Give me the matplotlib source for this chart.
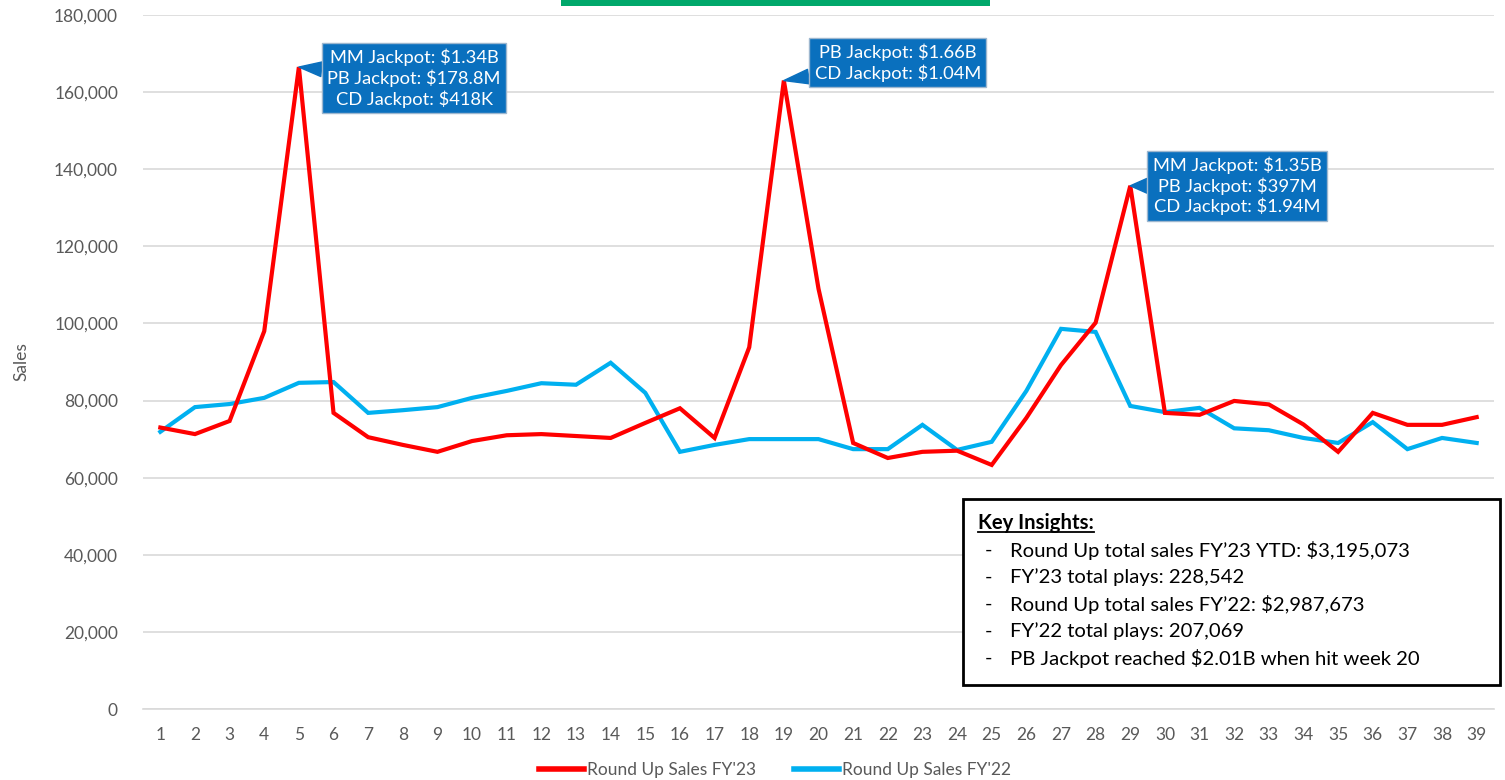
import numpy as np
import matplotlib
matplotlib.use("Agg")
import matplotlib.pyplot as plt
from matplotlib.patches import Rectangle
from matplotlib.ticker import FuncFormatter, MultipleLocator

plt.rcParams.update({"font.family": ["Lato", "DejaVu Sans"]})

weeks = list(range(1, 40))
sales_fy23 = [73000, 71300, 74700, 98000, 166500, 76800, 70500, 68500, 66700, 69500,
              71000, 71300, 70800, 70300, 74200, 78000, 70300, 93800, 163000, 109000,
              69000, 65100, 66700, 67000, 63300, 75500, 89200, 100200, 135700, 76800,
              76300, 79900, 79000, 73800, 66700, 76800, 73700, 73700, 75700]
sales_fy22 = [71900, 78300, 79100, 80700, 84600, 84800, 76800, 77500, 78300, 80700,
              82500, 84500, 84100, 89800, 82000, 66700, 68500, 70000, 70000, 70000,
              67400, 67400, 73700, 67200, 69300, 82500, 98600, 97800, 78600, 77000,
              78100, 72800, 72300, 70300, 69000, 74400, 67400, 70300, 69000]

callouts = [
    (5, "MM Jackpot: $1.34B\nPB Jackpot: $178.8M\nCD Jackpot: $418K", (83, -8)),
    (19, "PB Jackpot: $1.66B\nCD Jackpot: $1.04M", (82, 13)),
    (29, "MM Jackpot: $1.35B\nPB Jackpot: $397M\nCD Jackpot: $1.94M", (77, 0)),
]
insights = [
    "Round Up total sales FY\u201923 YTD: $3,195,073",
    "FY\u201923 total plays: 228,542",
    "Round Up total sales FY\u201922: $2,987,673",
    "FY\u201922 total plays: 207,069",
    "PB Jackpot reached $2.01B when hit week 20",
]

RED = "#FF0000"
CYAN = "#00B0F0"
CALLOUT = "#0A70BE"
GREY = "#595959"
W, H = 1505, 780

fig = plt.figure(figsize=(W / 100, H / 100), dpi=100)
ax = fig.add_axes([143 / W, 71 / H, (1494 - 143) / W, (709 - 15) / H])

ax.plot(weeks, sales_fy23, color=RED, lw=3, label="Round Up Sales FY'23",
        solid_joinstyle="miter", zorder=3)
ax.plot(weeks, sales_fy22, color=CYAN, lw=3, label="Round Up Sales FY'22",
        solid_joinstyle="miter", zorder=2)

ax.set_xlim(0.5, 39.5)
ax.set_ylim(0, 180000)
ax.set_xticks(weeks)
ax.yaxis.set_major_locator(MultipleLocator(20000))
ax.yaxis.set_major_formatter(FuncFormatter(lambda v, p: f"{int(v):,}"))
ax.grid(axis="y", color="#D9D9D9", lw=1.2)
ax.set_axisbelow(True)
for s in ("top", "right", "left"):
    ax.spines[s].set_visible(False)
ax.spines["bottom"].set_color("#D9D9D9")
ax.spines["bottom"].set_linewidth(1.2)
ax.tick_params(axis="both", length=0, labelsize=12.5, labelcolor=GREY)
ax.tick_params(axis="y", pad=18)
ax.tick_params(axis="x", pad=13)
ax.set_ylabel("Sales", fontsize=12.5, color=GREY, labelpad=18)

# callouts at the peaks
for wk, txt, off in callouts:
    ax.annotate(txt, xy=(wk, sales_fy23[wk - 1]), xytext=off, textcoords="offset points",
                ha="center", va="center", fontsize=13.2, color="white", linespacing=1.22,
                bbox=dict(boxstyle="square,pad=0.3", fc=CALLOUT, ec="#9DB7CF", lw=1),
                arrowprops=dict(arrowstyle="wedge,tail_width=0.8,shrink_factor=0.5",
                                fc=CALLOUT, ec=CALLOUT, shrinkA=0, shrinkB=0),
                zorder=5)

legend = ax.legend(loc="center", bbox_to_anchor=((775 - 143) / 1351, -61 / 694), ncol=2,
                   frameon=False, fontsize=12.5, handlelength=2.6, handletextpad=0.15,
                   columnspacing=2.2, labelcolor=GREY)
for line in legend.get_lines():
    line.set_linewidth(4)

# green title bar cut at top
fig.patches.append(Rectangle((561 / W, 774 / H), 429 / W, 10 / H, transform=fig.transFigure,
                             fc="#00A86B", ec="none"))

# key insights box
fig.patches.append(Rectangle((963 / W, (H - 685) / H), 537 / W, 186 / H,
                             transform=fig.transFigure, fc="white", ec="black", lw=2,
                             zorder=6))
fs = 14.6
t = fig.text(978 / W, (H - 523) / H, "Key Insights:", fontsize=fs, fontweight="bold",
             va="center", ha="left", zorder=7)
for i, line in enumerate(insights):
    y = (H - 550 - 27 * i) / H
    fig.text(985 / W, y, "-", fontsize=fs, va="center", ha="left", zorder=7)
    fig.text(1010 / W, y, line, fontsize=fs, va="center", ha="left", zorder=7)

fig.canvas.draw()
bb = t.get_window_extent().transformed(fig.transFigure.inverted())
fig.add_artist(plt.Line2D([bb.x0, bb.x1], [bb.y0 + 1 / H, bb.y0 + 1 / H],
                          transform=fig.transFigure, color="black", lw=1.3, zorder=7))

fig.savefig("out.png", dpi=100, facecolor="white")
